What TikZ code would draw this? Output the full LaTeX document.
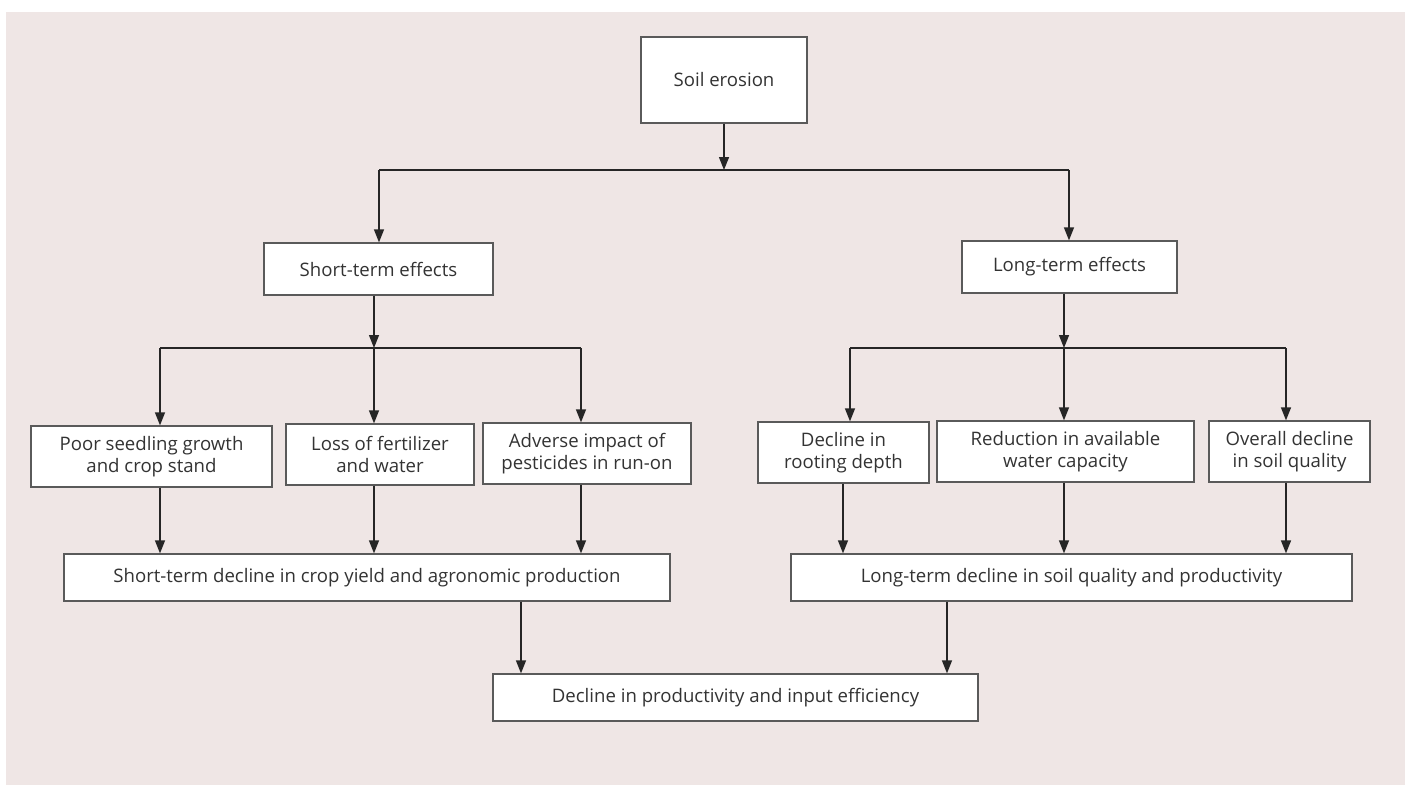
\documentclass[tikz,border=0pt]{standalone}
\usepackage{fontspec}
\setmainfont{Open Sans}
\usetikzlibrary{arrows.meta}
\definecolor{bgpink}{HTML}{EFE6E5}
\definecolor{boxline}{HTML}{5A5A5A}
\definecolor{arrline}{HTML}{262626}
\definecolor{txt}{HTML}{333333}
\begin{document}
\begin{tikzpicture}[x=1pt,y=-1pt,
  box/.style={draw=boxline, fill=white, line width=1.3pt, inner sep=0pt,
    align=center, text=txt, font=\fontsize{18.6}{22}\selectfont},
  arr/.style={draw=arrline, line width=1.4pt, -{Triangle[length=13pt,width=10pt]}},
  ln/.style={draw=arrline, line width=1.4pt}]
\useasboundingbox (0,0) rectangle (1411,785);
\fill[bgpink] (6,12) rectangle (1405,785);

% nodes
\node[box, minimum width=166pt, minimum height=86pt] (soil) at (724,80) {Soil erosion};
\node[box, minimum width=229pt, minimum height=52pt] (short) at (378.5,269) {Short-term effects};
\node[box, minimum width=215pt, minimum height=52pt] (long) at (1069.5,267) {Long-term effects};

\node[box, minimum width=241pt, minimum height=61pt] (poor) at (151.5,456.5) {Poor seedling growth\\and crop stand};
\node[box, minimum width=188pt, minimum height=61pt] (loss) at (380,454.5) {Loss of fertilizer\\and water};
\node[box, minimum width=208pt, minimum height=61pt] (adv) at (587,453.5) {Adverse impact of\\pesticides in run-on};

\node[box, minimum width=171pt, minimum height=61pt] (root) at (843.5,452.5) {Decline in\\rooting depth};
\node[box, minimum width=257pt, minimum height=61pt] (red) at (1065.5,451.5) {Reduction in available\\water capacity};
\node[box, minimum width=161pt, minimum height=61pt] (over) at (1289.5,451.5) {Overall decline\\in soil quality};

\node[box, minimum width=606pt, minimum height=47pt] (sdec) at (367,577.5) {Short-term decline in crop yield and agronomic production};
\node[box, minimum width=561pt, minimum height=47pt] (ldec) at (1071.5,577.5) {Long-term decline in soil quality and productivity};

\node[box, minimum width=485pt, minimum height=47pt] (fin) at (735.5,697.5) {Decline in productivity and input efficiency};

% junction coordinates
\coordinate (j1) at (724,170);
\coordinate (j1l) at (379,170);
\coordinate (j1r) at (1069,170);
\coordinate (j2) at (374,348);
\coordinate (j2l) at (160,348);
\coordinate (j2m) at (374,348);
\coordinate (j2r) at (581,348);
\coordinate (j3) at (1064,348);
\coordinate (j3l) at (850,348);
\coordinate (j3m) at (1064,348);
\coordinate (j3r) at (1286,348);

% level 1
\draw[arr] (soil.south) -- (j1);
\draw[ln] (j1l) -- (j1r);
\draw[arr] (j1l) -- (j1l |- short.north);
\draw[arr] (j1r) -- (j1r |- long.north);

% level 2 short
\draw[arr] (j2 |- short.south) -- (j2);
\draw[ln] (j2l) -- (j2r);
\draw[arr] (j2l) -- (j2l |- poor.north);
\draw[arr] (j2m) -- (j2m |- loss.north);
\draw[arr] (j2r) -- (j2r |- adv.north);

% level 2 long
\draw[arr] (j3 |- long.south) -- (j3);
\draw[ln] (j3l) -- (j3r);
\draw[arr] (j3l) -- (j3l |- root.north);
\draw[arr] (j3m) -- (j3m |- red.north);
\draw[arr] (j3r) -- (j3r |- over.north);

% level 3
\draw[arr] (j2l |- poor.south) -- (j2l |- sdec.north);
\draw[arr] (j2m |- loss.south) -- (j2m |- sdec.north);
\draw[arr] (j2r |- adv.south) -- (j2r |- sdec.north);
\coordinate (rx) at (843,0);
\draw[arr] (rx |- root.south) -- (rx |- ldec.north);
\draw[arr] (j3m |- red.south) -- (j3m |- ldec.north);
\draw[arr] (j3r |- over.south) -- (j3r |- ldec.north);

% level 4
\coordinate (sx) at (521,0);
\coordinate (lx) at (947,0);
\draw[arr] (sx |- sdec.south) -- (sx |- fin.north);
\draw[arr] (lx |- ldec.south) -- (lx |- fin.north);
\end{tikzpicture}
\end{document}
